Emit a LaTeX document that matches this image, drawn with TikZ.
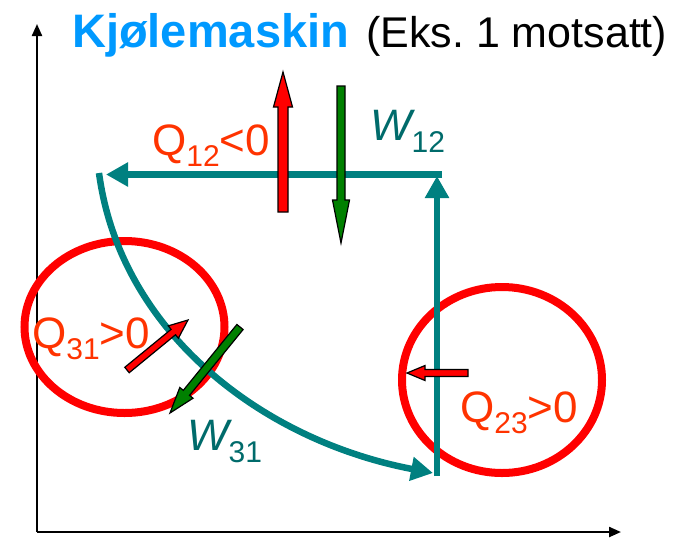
\documentclass[tikz,border=0pt]{standalone}
\usepackage{fontspec}
\setmainfont{Liberation Sans}
\usetikzlibrary{arrows.meta,calc}
\definecolor{tealline}{HTML}{008080}
\definecolor{wtext}{HTML}{006B6B}
\definecolor{qtext}{HTML}{FF3300}
\definecolor{circred}{HTML}{FF0000}
\definecolor{titleblue}{HTML}{0099FF}
\definecolor{arrgreen}{HTML}{008000}
\newcommand{\blockarr}[6]{% #1 fill, #2 start coord, #3 tip coord, #4 half shaft, #5 half head, #6 head length
  \coordinate (#2-hb) at ($(#3)!#6!(#2)$);
  \draw[blockarrow, fill=#1]
    ($(#2)!#4!90:(#3)$) --
    ($(#2-hb)!#4!90:(#3)$) --
    ($(#2-hb)!#5!90:(#3)$) --
    (#3) --
    ($(#2-hb)!#5!-90:(#3)$) --
    ($(#2-hb)!#4!-90:(#3)$) --
    ($(#2)!#4!-90:(#3)$) -- cycle;
}
\begin{document}
\frenchspacing
\begin{tikzpicture}[x=1pt,y=-1pt,
  axisline/.style={line width=2.2pt, -{Triangle[length=12pt,width=10pt]}},
  cycleline/.style={draw=tealline, line width=6.5pt, -{Triangle[length=22pt,width=23pt]}},
  heatcircle/.style={draw=circred, line width=8pt},
  blockarrow/.style={draw=black, line width=1.2pt, line join=miter},
  lbl/.style={anchor=base west, inner sep=0pt, font=\fontsize{44}{50}\selectfont},
  qlbl/.style={lbl, text=qtext},
  wlbl/.style={lbl, text=wtext}]
\useasboundingbox (0,0) rectangle (682,539);

% axes
\coordinate (origin) at (37,532);
\coordinate (yend) at (37,24);
\coordinate (xend) at (621,532);
\draw[axisline] (origin) -- (yend);
\draw[axisline] (origin) -- (xend);

% title
\node[anchor=base west, inner sep=0pt, text=titleblue, font=\bfseries\fontsize{47}{56}\selectfont] (title) at (72,47) {Kjølemaskin};
\node[anchor=base west, inner sep=0pt, font=\fontsize{43}{50}\selectfont] (titleb) at (366,47) {(Eks. 1 motsatt)};

% circles
\draw[heatcircle] (124.5,327) ellipse [x radius=100, y radius=86];
\draw[heatcircle] (502,380) ellipse [x radius=100, y radius=93];

% cycle
\coordinate (s1) at (99,173);
\coordinate (s3) at (433,473);
\coordinate (s3b) at (437,476);
\coordinate (s2) at (437,176);
\coordinate (s2b) at (442,174.5);
\coordinate (s2c) at (106,174.5);
\draw[cycleline] (s1) .. controls (120,330) and (260,440) .. (s3);
\draw[cycleline] (s3b) -- (s2);
\draw[cycleline] (s2b) -- (s2c);

% block arrows
\coordinate (qa) at (283,212); \coordinate (qa-t) at (283,72);
\blockarr{red}{qa}{qa-t}{5pt}{9.5pt}{35pt}
\coordinate (wa) at (341,86); \coordinate (wa-t) at (341,243);
\blockarr{arrgreen}{wa}{wa-t}{4pt}{8.5pt}{43pt}
\coordinate (qb) at (127,370); \coordinate (qb-t) at (188,320);
\blockarr{red}{qb}{qb-t}{3.5pt}{8pt}{19pt}
\coordinate (wb) at (240,327); \coordinate (wb-t) at (170,413);
\blockarr{arrgreen}{wb}{wb-t}{4pt}{8.5pt}{26pt}
\coordinate (qc) at (468,373); \coordinate (qc-t) at (407,373);
\blockarr{red}{qc}{qc-t}{3.5pt}{7.5pt}{18pt}

% labels
\node[qlbl] (q12) at (152,155) {Q\raisebox{-11pt}{\fontsize{30}{36}\selectfont 12}<0};
\node[wlbl] (w12) at (370,140) {\itshape W\upshape\raisebox{-12pt}{\fontsize{30}{36}\selectfont 12}};
\node[qlbl] (q31) at (32,348) {Q\raisebox{-11pt}{\fontsize{30}{36}\selectfont 31}>0};
\node[qlbl] (q23) at (460,422) {Q\raisebox{-11pt}{\fontsize{30}{36}\selectfont 23}>0};
\node[wlbl] (w31) at (187,450) {\itshape W\upshape\raisebox{-12pt}{\fontsize{30}{36}\selectfont 31}};
\end{tikzpicture}
\end{document}
